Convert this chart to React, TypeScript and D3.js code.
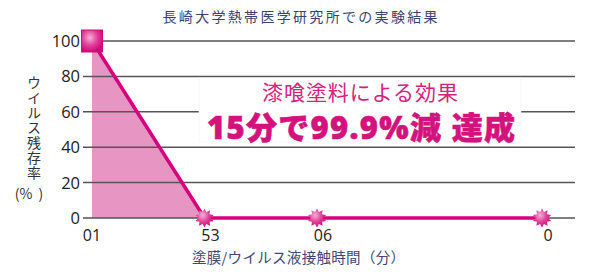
import React from "react";
import * as d3 from "d3";

const times = [0, 15, 30, 60];
const survival = [100, 0, 0, 0];
const xTickLabels = ["01", "53", "06", "0"];
const yTicks = [0, 20, 40, 60, 80, 100];
const titleText = "長崎大学熱帯医学研究所での実験結果";
const yTitleText = "ウイルス残存率";
const yTitleUnit = "(%  )";
const xTitleText = "塗膜/ウイルス液接触時間（分）";
const noteLine1 = "漆喰塗料による効果";
const noteLine2 = "15分で99.9%減 達成";

const W = 600;
const H = 278;
const JP = "'Noto Sans CJK JP', 'Noto Sans', sans-serif";
const LATIN_JP = "'Noto Sans', 'Noto Sans CJK JP', sans-serif";
const NUM = "'Open Sans', 'Noto Sans', sans-serif";
const MAGENTA = "#d6007f";

function starPath(cx: number, cy: number, rOut: number, rIn: number, n: number) {
  const pts: [number, number][] = [];
  for (let i = 0; i < n * 2; i++) {
    const r = i % 2 === 0 ? rOut : rIn;
    const a = (Math.PI * i) / n - Math.PI / 2;
    pts.push([cx + r * Math.cos(a), cy + r * Math.sin(a)]);
  }
  return d3.line()(pts) + "Z";
}

export default function App() {
  const x = d3.scaleLinear().domain([0, 60]).range([92, 542]);
  const y = d3.scaleLinear().domain([0, 100]).range([218, 41]);
  const axisX = 88;
  const gridEnd = 575;

  const data = times.map((t, i) => ({ t, v: survival[i] }));
  const line = d3
    .line<{ t: number; v: number }>()
    .x((d) => x(d.t))
    .y((d) => y(d.v));
  const area = d3
    .area<{ t: number; v: number }>()
    .x((d) => x(d.t))
    .y0(y(0))
    .y1((d) => y(d.v));
  const areaData = data.slice(0, 2);

  return (
    <svg
      width={W}
      height={H}
      style={{ position: "absolute", left: 0, top: 0, background: "#fff" }}
    >
      <defs>
        <radialGradient id="mk" cx="40%" cy="35%" r="65%">
          <stop offset="0%" stopColor="#f7b0d6" />
          <stop offset="55%" stopColor="#e0409a" />
          <stop offset="100%" stopColor="#cf0a78" />
        </radialGradient>
      </defs>

      {/* title */}
      <text
        x={300}
        y={22}
        textAnchor="middle"
        fontFamily={JP}
        fontSize={14}
        fill="#3b4470"
        textLength={275}
        lengthAdjust="spacing"
      >
        {titleText}
      </text>

      {/* area fill */}
      <path d={area(areaData) || ""} fill="#e796c3" />

      {/* grid lines & ticks */}
      {yTicks.map((t) => (
        <g key={t}>
          <line
            x1={axisX - 5}
            x2={gridEnd}
            y1={y(t)}
            y2={y(t)}
            stroke="#555"
            strokeWidth={1.5}
          />
          <text
            x={80}
            y={y(t)}
            dy="0.36em"
            textAnchor="end"
            fontFamily={NUM}
            fontSize={16.5}
            fill="#222"
          >
            {t}
          </text>
        </g>
      ))}

      {/* annotation box */}
      <rect
        x={199}
        y={78}
        width={322}
        height={64}
        fill="#fff"
        stroke="#f2f2f2"
        strokeWidth={0.6}
      />
      <text
        x={262}
        y={99.5}
        fontFamily={LATIN_JP}
        fontSize={21}
        fill="#d5237f"
        textLength={196}
        lengthAdjust="spacing"
      >
        {noteLine1}
      </text>
      <text
        x={207}
        y={139}
        fontFamily={LATIN_JP}
        fontSize={31}
        fontWeight={900}
        fill="#d4127e"
        stroke="#d4127e"
        strokeWidth={0.6}
        textLength={308}
        lengthAdjust="spacing"
      >
        {noteLine2}
      </text>

      {/* data line */}
      <path
        d={line(data) || ""}
        fill="none"
        stroke={MAGENTA}
        strokeWidth={3.5}
        strokeLinejoin="round"
      />

      {/* markers */}
      {data.map((d, i) =>
        i === 0 ? (
          <rect
            key={i}
            x={x(d.t) - 10.5}
            y={y(d.v) - 11}
            width={21}
            height={22}
            fill="url(#mk)"
            stroke="#d0107a"
            strokeWidth={1}
          />
        ) : (
          <path
            key={i}
            d={starPath(x(d.t), y(d.v), 9.5, 6.2, 10)}
            fill="url(#mk)"
          />
        )
      )}

      {/* x tick labels */}
      {times.map((t, i) => (
        <text
          key={t}
          x={x(t) + (i === 0 ? 0 : 6)}
          y={241}
          textAnchor="middle"
          fontFamily={NUM}
          fontSize={16}
          fill="#222"
        >
          {xTickLabels[i]}
        </text>
      ))}

      {/* x title */}
      <text
        x={192}
        y={263}
        fontFamily={JP}
        fontSize={14.5}
        fill="#3b4878"
        textLength={213}
        lengthAdjust="spacing"
      >
        {xTitleText}
      </text>

      {/* y title (vertical) */}
      <text
        x={34}
        y={76}
        fontFamily={JP}
        fontSize={14}
        fill="#333"
        style={{ writingMode: "vertical-rl", letterSpacing: "1px" }}
      >
        {yTitleText}
      </text>
      <text
        x={29}
        y={194}
        dy="0.36em"
        textAnchor="middle"
        fontFamily={JP}
        fontSize={14}
        fill="#333"
        style={{ whiteSpace: "pre" }}
      >
        {yTitleUnit}
      </text>
    </svg>
  );
}
